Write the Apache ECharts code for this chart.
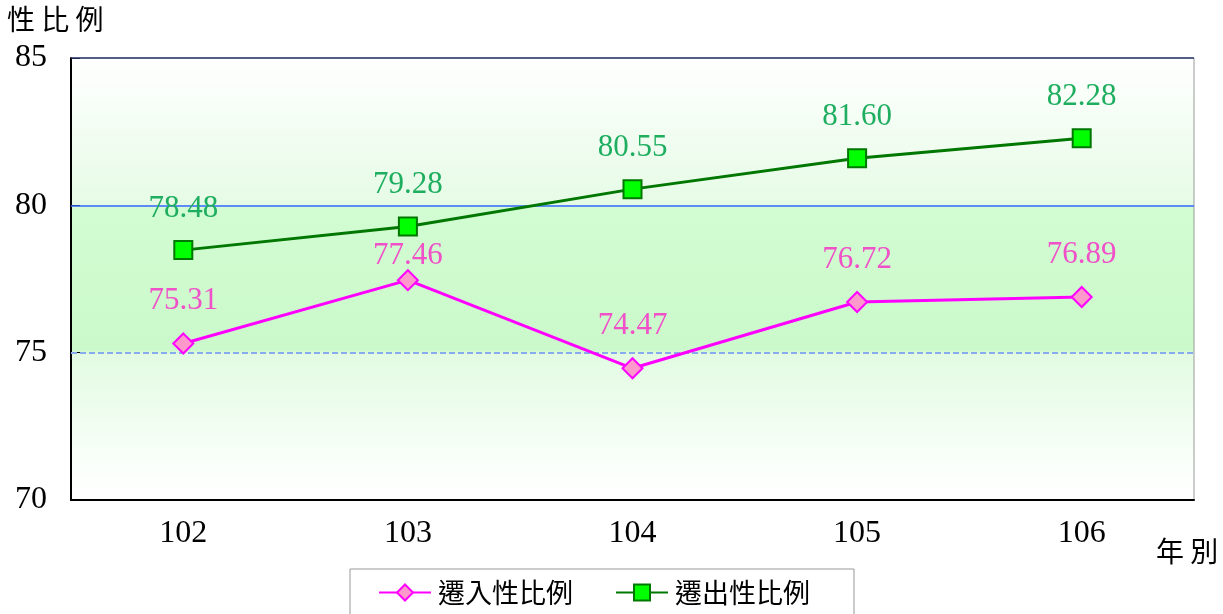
<!DOCTYPE html>
<html>
<head>
<meta charset="utf-8">
<script src="https://cdn.jsdelivr.net/npm/echarts@6/dist/echarts.min.js"></script>
<style>
  html, body { margin: 0; padding: 0; background: #fff; }
  #chart { width: 1223px; height: 614px; }
</style>
</head>
<body>
<div id="chart"></div>
<script>
const years = ['102', '103', '104', '105', '106'];
const moveIn = [75.31, 77.46, 74.47, 76.72, 76.89];
const moveOut = [78.48, 79.28, 80.55, 81.60, 82.28];
const seriesNames = ['遷入性比例', '遷出性比例'];

const FONT = "'Liberation Serif', 'Noto Sans CJK TC', serif";
const CJK = "'Noto Sans CJK TC', sans-serif";

// 103 label sits closer to its marker in the original
const moveInData = moveIn.map((v, i) => (i === 1 ? { value: v, label: { distance: -2 } } : v));

const chart = echarts.init(document.getElementById('chart'));

chart.setOption({
  backgroundColor: '#fff',
  animation: false,
  grid: {
    left: 71,
    right: 29,
    top: 58,
    bottom: 114,
    show: true,
    borderColor: '#9a9a9a',
    borderWidth: 1,
    backgroundColor: {
      type: 'linear', x: 0, y: 0, x2: 0, y2: 1,
      colorStops: [
        { offset: 0, color: '#ffffff' },
        { offset: 0.33, color: '#e6fbe6' },
        { offset: 0.34, color: '#d2fcd2' },
        { offset: 0.66, color: '#cbf9cb' },
        { offset: 0.67, color: '#e2fbe2' },
        { offset: 0.92, color: '#fafffa' },
        { offset: 1, color: '#ffffff' },
      ],
    },
  },
  graphic: [
    {
      type: 'text', left: 7, top: 5,
      style: { text: '性 比 例', font: '28px ' + CJK, fill: '#000' },
    },
    {
      type: 'text', left: 1156, top: 537,
      style: { text: '年 別', font: '28px ' + CJK, fill: '#000' },
    },
  ],
  legend: {
    data: seriesNames,
    bottom: -8,
    left: 350,
    orient: 'horizontal',
    borderColor: '#999',
    borderWidth: 1,
    padding: [10, 44, 16, 28],
    itemWidth: 52,
    itemHeight: 20,
    itemGap: 42,
    textStyle: { fontFamily: CJK, fontSize: 27, color: '#000', padding: [0, 0, 0, 2] },
  },
  xAxis: {
    type: 'category',
    data: years,
    boundaryGap: true,
    axisLine: { lineStyle: { color: '#000', width: 2 } },
    axisTick: { inside: true, length: 8, lineStyle: { color: '#777' } },
    axisLabel: { fontFamily: FONT, fontSize: 32, color: '#000', margin: 18 },
    splitLine: { show: false },
  },
  yAxis: {
    type: 'value',
    min: 70,
    max: 85,
    interval: 5,
    axisLine: { show: true, lineStyle: { color: '#000', width: 2 } },
    axisTick: { show: true, inside: true, length: 9, lineStyle: { color: '#000' } },
    axisLabel: { fontFamily: FONT, fontSize: 32, color: '#000', margin: 24 },
    splitLine: { show: false },
  },
  series: [
    {
      name: seriesNames[0],
      type: 'line',
      data: moveInData,
      symbol: 'diamond',
      symbolSize: 20,
      lineStyle: { color: '#ff00ff', width: 3 },
      itemStyle: { color: '#ff99cc', borderColor: '#ff00ff', borderWidth: 2 },
      label: {
        show: true,
        position: 'top',
        distance: 16,
        formatter: (p) => p.value.toFixed(2),
        fontFamily: FONT,
        fontSize: 31,
        color: '#f050c8',
      },
      markLine: {
        silent: true,
        symbol: 'none',
        label: { show: false },
        z: 1,
        data: [
          { yAxis: 85, lineStyle: { color: '#2c3a6e', width: 1.5, type: 'solid' } },
          { yAxis: 80, lineStyle: { color: '#3366ff', width: 1.5, type: 'solid' } },
          { yAxis: 75, lineStyle: { color: '#88aaee', width: 2, type: [6, 3] } },
        ],
      },
    },
    {
      name: seriesNames[1],
      type: 'line',
      data: moveOut,
      symbol: 'rect',
      symbolSize: 18,
      lineStyle: { color: '#007700', width: 3 },
      itemStyle: { color: '#00ff00', borderColor: '#007700', borderWidth: 2 },
      label: {
        show: true,
        position: 'top',
        distance: 16,
        formatter: (p) => p.value.toFixed(2),
        fontFamily: FONT,
        fontSize: 31,
        color: '#1fae5f',
      },
    },
  ],
});
</script>
</body>
</html>
